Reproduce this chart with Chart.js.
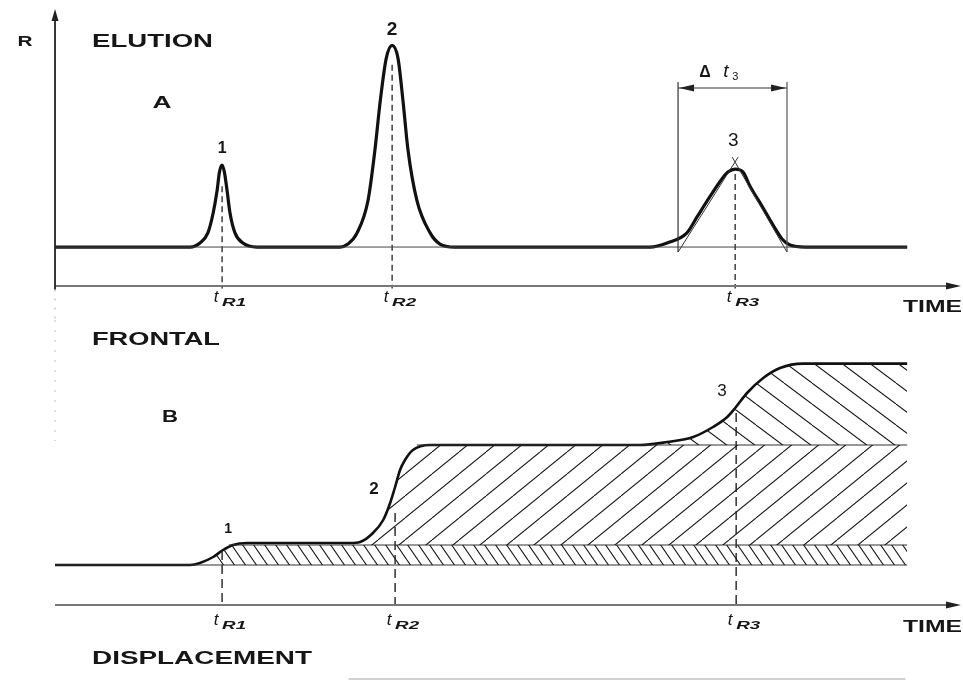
<!DOCTYPE html>
<html>
<head>
<meta charset="utf-8">
<script src="https://cdn.jsdelivr.net/npm/chart.js@4.4.0/dist/chart.umd.min.js"></script>
<style>
  html, body { margin: 0; padding: 0; background: #fff; }
  canvas { display: block; }
</style>
</head>
<body>
<canvas id="elutionChart" width="963" height="320"></canvas>
<canvas id="frontalChart" width="963" height="361"></canvas>
<script>
// ---- Panel A: elution trace (time, response) ----
const elutionTime = [-0.06, 4.03, 4.33, 4.57, 4.73, 4.85, 4.92, 5.0, 5.07, 5.15, 5.24, 5.39, 5.63, 6.06,
    8.57, 8.81, 9.09, 9.42, 9.63, 9.79, 9.97, 10.15, 10.33, 10.48, 10.63, 10.90, 11.30, 11.60, 12.05,
    17.96, 18.48, 19.08, 19.39, 19.78, 20.11, 20.32, 20.54, 20.78, 20.99, 21.36, 21.72, 21.96, 22.2, 22.66, 25.75];
const elutionResponse = [0, 0, 2, 7, 16.8, 28, 37, 40.5, 37, 28, 16.8, 7, 2, 0,
    0, 1.5, 7, 23, 48, 72, 93, 99.5, 93, 72, 48, 23, 7, 1.5, 0,
    0, 2, 7, 15, 25, 33, 37, 38.5, 37, 30, 20, 10, 4, 1, 0, 0];

const retentionA = [5.0, 10.15, 20.54];
const dropTopA = [30, 90, 36];
const peakLabelA = [48.4, 107.1, 52.3];
const peakNames = ['1', '2', '3'];

// peak 3 width construction (tangents + Δt3 bracket)
const tangentLeftTime = [18.81, 20.63];
const tangentRightTime = [22.11, 20.45];
const tangentResponse = [-2.5, 44.4];
const widthMarks = [18.81, 22.11];
const widthMarkResponse = [-2.5, 81.5];
const widthArrowLevel = 78.5;

// ---- Panel B: frontal trace ----
const frontalTime = [-0.06, 4.03, 4.33, 4.73, 5.03, 5.33, 5.76, 8.88, 9.18, 9.57, 9.88, 10.09, 10.24, 10.39,
    10.54, 10.78, 11.3, 17.66, 18.48, 19.27, 19.87, 20.3, 20.54, 20.9, 21.39, 21.9, 22.6, 25.75];
const frontalResponse = [0, 0, 0.1, 0.4, 0.75, 1.0, 1.1, 1.1, 1.15, 1.6, 2.25, 3.1, 3.9, 4.75,
    5.25, 5.75, 6.0, 6.0, 6.15, 6.4, 6.9, 7.4, 7.85, 8.6, 9.35, 9.85, 10.07, 10.07];

// hatched zones, one per component
const zone1Time = [4.73, 5.03, 5.33, 25.75];
const zone1Top = [0.4, 0.75, 1.0, 1.0];
const zone2Time = [9.0, 9.18, 9.57, 9.88, 10.09, 10.24, 10.39, 10.54, 10.78, 11.3, 25.75];
const zone2Top = [1.0, 1.15, 1.6, 2.25, 3.1, 3.9, 4.75, 5.25, 5.75, 6.0, 6.0];
const zone3Time = [17.66, 18.48, 19.27, 19.87, 20.3, 20.54, 20.9, 21.39, 21.9, 22.6, 25.75];
const zone3Top = [6.0, 6.15, 6.4, 6.9, 7.4, 7.85, 8.6, 9.35, 9.85, 10.07, 10.07];
const zoneLevels = [0, 1, 6];
const zoneLineStart = [-0.06, 5.2, 10.9];
const traceEnd = 25.75;

const retentionB = [5.0, 10.24, 20.57];
const dropTopB = [0.7, 2.6, 7.6];
const peakLabelBTime = [5.18, 9.6, 20.14];
const peakLabelB = [1.8, 3.8, 8.7];

const timeMax = 27.38;
const FONT = '"Liberation Sans", Arial, sans-serif';

// helpers
function line(xs, ys, extra) {
    return Object.assign({
        type: 'line',
        data: xs.map((x, i) => ({ x: x, y: ys[i] })),
        borderColor: '#111',
        borderWidth: 1,
        pointRadius: 0,
        fill: false,
        clip: false,
        tension: 0
    }, extra || {});
}

function hatch(target, w, h, dir, lw) {
    const c = document.createElement('canvas');
    c.width = w; c.height = h;
    const g = c.getContext('2d');
    g.strokeStyle = '#1a1a1a';
    g.lineWidth = lw;
    g.beginPath();
    for (let k = -1; k <= 1; k++) {
        if (dir === '/') { g.moveTo(k * w, h); g.lineTo((k + 1) * w, 0); }
        else { g.moveTo(k * w, 0); g.lineTo((k + 1) * w, h); }
    }
    g.stroke();
    return target.getContext('2d').createPattern(c, 'repeat');
}

function label(ctx, str, x, y, size, o) {
    o = o || {};
    ctx.save();
    ctx.font = (o.italic ? 'italic ' : '') + (o.weight || 'bold') + ' ' + size + 'px ' + (o.family || FONT);
    ctx.fillStyle = '#161616';
    ctx.textBaseline = 'middle';
    ctx.textAlign = 'left';
    const w = ctx.measureText(str).width;
    const sx = o.width ? o.width / w : 1;
    const align = o.align || 'center';
    const left = align === 'left' ? x : align === 'right' ? x - w * sx : x - w * sx / 2;
    ctx.translate(left, y);
    ctx.scale(sx, 1);
    ctx.fillText(str, 0, 0);
    ctx.restore();
}

function retentionLabel(ctx, idx, x, y) {
    label(ctx, 't', x - 6, y - 2, 17, { italic: true, weight: 'normal' });
    label(ctx, 'R' + idx, x, y + 4, 10, { italic: true, align: 'left', width: 24 });
}

function arrowHead(ctx, x, y, dir, len, half) {
    ctx.save();
    ctx.fillStyle = '#222';
    ctx.beginPath();
    if (dir === 'up') { ctx.moveTo(x, y); ctx.lineTo(x - half, y + len); ctx.lineTo(x + half, y + len); }
    if (dir === 'right') { ctx.moveTo(x, y); ctx.lineTo(x - len, y - half); ctx.lineTo(x - len, y + half); }
    if (dir === 'left') { ctx.moveTo(x, y); ctx.lineTo(x + len, y - half); ctx.lineTo(x + len, y + half); }
    ctx.closePath();
    ctx.fill();
    ctx.restore();
}

function overlay(draw) {
    return {
        id: 'overlay',
        afterDatasetsDraw(chart) {
            const px = v => chart.scales.x.getPixelForValue(v);
            const py = v => chart.scales.y.getPixelForValue(v);
            chart.ctx.save();
            draw(chart.ctx, px, py);
            chart.ctx.restore();
        }
    };
}

function options(yMin, yMax, padTop) {
    return {
        responsive: false,
        animation: false,
        devicePixelRatio: 1,
        events: [],
        layout: { padding: { left: 57, right: 2, top: padTop, bottom: 0 } },
        plugins: { legend: { display: false }, tooltip: { enabled: false } },
        scales: {
            x: { type: 'linear', min: 0, max: timeMax, display: false },
            y: { type: 'linear', min: yMin, max: yMax, display: false }
        }
    };
}

// ---- Chart A ----
const datasetsA = [
    line([-0.06, -0.06], [-21, 114], { borderColor: '#222', borderWidth: 1.8 }),
    line([-0.06, -0.06], [-21, -36], { borderColor: '#ccc', borderWidth: 1.5, borderDash: [2, 7] }),
    line([-0.06, timeMax - 0.3], [-19.2, -19.2], { borderColor: '#777', borderWidth: 2 }),
    line([-0.06, traceEnd], [0, 0], { borderColor: '#444', borderWidth: 1 }),
    line(tangentLeftTime, tangentResponse, { borderColor: '#333', borderWidth: 1 }),
    line(tangentRightTime, tangentResponse, { borderColor: '#333', borderWidth: 1 }),
    line([widthMarks[0], widthMarks[0]], widthMarkResponse, { borderColor: '#333', borderWidth: 1.2 }),
    line([widthMarks[1], widthMarks[1]], widthMarkResponse, { borderColor: '#555', borderWidth: 1.2 }),
    line(widthMarks, [widthArrowLevel, widthArrowLevel], { borderColor: '#333', borderWidth: 1.2 })
];
retentionA.forEach((t, i) => {
    datasetsA.push(line([t, t], [dropTopA[i], -20.5], { borderColor: '#222', borderWidth: 1.3, borderDash: [6, 4] }));
});
datasetsA.push(line(elutionTime, elutionResponse, { borderWidth: 3.2, cubicInterpolationMode: 'monotone' }));

new Chart(document.getElementById('elutionChart'), {
    type: 'line',
    data: { datasets: datasetsA },
    options: options(-36, 117, 10),
    plugins: [overlay((ctx, px, py) => {
        arrowHead(ctx, px(-0.06), py(117.5), 'up', 12, 3.5);
        arrowHead(ctx, px(timeMax), py(-19.2), 'right', 15, 3.5);
        arrowHead(ctx, px(widthMarks[0]) + 1, py(widthArrowLevel), 'left', 15, 3.5);
        arrowHead(ctx, px(widthMarks[1]) - 1, py(widthArrowLevel), 'right', 15, 3.5);

        label(ctx, 'R', px(-0.97), py(101.2), 14, { width: 15 });
        label(ctx, 'ELUTION', px(1.06), py(101.2), 18, { align: 'left', width: 121 });
        label(ctx, 'A', px(3.18), py(70.6), 16, { width: 19 });
        peakNames.forEach((n, i) => {
            label(ctx, n, px(i === 2 ? 20.48 : retentionA[i]), py(peakLabelA[i]), i === 0 ? 16 : 19, { weight: i === 2 ? 'normal' : 'bold' });
            retentionLabel(ctx, i + 1, px(retentionA[i]), py(-25.7));
        });
        // Δt3
        label(ctx, 'Δ', px(19.63), py(86.3), 16);
        label(ctx, 't', px(20.26), py(86.6), 19, { italic: true, weight: 'normal' });
        label(ctx, '3', px(20.45), py(84.0), 11, { align: 'left', weight: 'normal' });
        label(ctx, 'TIME', px(27.41), py(-29.6), 17, { align: 'right', width: 59 });
    })]
});

// ---- Chart B ----
const frontalCanvas = document.getElementById('frontalChart');
const zonePatterns = [
    hatch(frontalCanvas, 11, 16, '\\', 1.1),
    hatch(frontalCanvas, 27, 22, '/', 1.1),
    hatch(frontalCanvas, 28, 21, '\\', 1.1)
];
const zoneTimes = [zone1Time, zone2Time, zone3Time];
const zoneTops = [zone1Top, zone2Top, zone3Top];

const datasetsB = [
    line([-0.06, -0.06], [12.25, 6.2], { borderColor: '#d4d4d4', borderWidth: 1.5, borderDash: [2, 8] }),
    line([-0.06, timeMax - 0.3], [-2.0, -2.0], { borderColor: '#777', borderWidth: 2 }),
    line([8.83, 25.7], [-5.7, -5.7], { borderColor: '#d2d2d2', borderWidth: 2 })
];
zoneTimes.forEach((ts, i) => {
    datasetsB.push(line(ts, zoneTops[i], {
        borderWidth: 0,
        cubicInterpolationMode: 'monotone',
        fill: { value: zoneLevels[i] },
        backgroundColor: zonePatterns[i]
    }));
    datasetsB.push(line([zoneLineStart[i], traceEnd], [zoneLevels[i], zoneLevels[i]], { borderColor: '#333', borderWidth: 1.1 }));
});
retentionB.forEach((t, i) => {
    datasetsB.push(line([t, t], [dropTopB[i], -2.1], { borderColor: '#222', borderWidth: 1.4, borderDash: [9, 5] }));
});
datasetsB.push(line(frontalTime, frontalResponse, { borderWidth: 2.6, cubicInterpolationMode: 'monotone' }));

new Chart(frontalCanvas, {
    type: 'line',
    data: { datasets: datasetsB },
    options: options(-5.8, 12.25, 0),
    plugins: [overlay((ctx, px, py) => {
        arrowHead(ctx, px(timeMax), py(-2.0), 'right', 15, 3.5);
        label(ctx, 'FRONTAL', px(1.06), py(11.25), 18, { align: 'left', width: 128 });
        label(ctx, 'B', px(3.42), py(7.35), 16, { width: 16 });
        peakNames.forEach((n, i) => {
            label(ctx, n, px(peakLabelBTime[i]), py(peakLabelB[i]), i === 0 ? 14 : 17, { weight: i === 2 ? 'normal' : 'bold' });
            retentionLabel(ctx, i + 1, px(retentionB[i]), py(-2.85));
        });
        label(ctx, 'TIME', px(27.41), py(-3.1), 17, { align: 'right', width: 59 });
        label(ctx, 'DISPLACEMENT', px(1.06), py(-4.7), 18, { align: 'left', width: 220 });
    })]
});
</script>
</body>
</html>
